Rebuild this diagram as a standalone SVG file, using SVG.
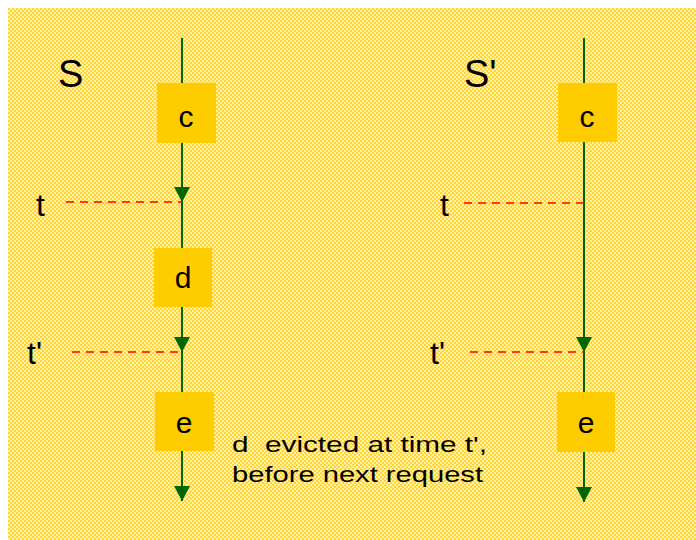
<svg xmlns="http://www.w3.org/2000/svg" width="696" height="540" viewBox="0 0 696 540">
<style>
.box{fill:#FFCC00}
.lbl{font-family:"Comic Sans MS","Liberation Sans",sans-serif;fill:#000}
.big{font-size:38px}
.mid{font-size:32px}
.node{font-size:30px;text-anchor:middle}
.note{font-size:22px}
.flow{stroke:#006600;stroke-width:2;fill:none}
.arr{stroke:#006600;stroke-width:2;fill:none;marker-end:url(#ah)}
.dash{stroke:#FF0000;stroke-width:1.5;stroke-dasharray:8,6;fill:none}
</style>
<defs>
<pattern id="dither" width="4" height="4" patternUnits="userSpaceOnUse">
<rect width="4" height="4" fill="#FFF0A8"/>
<rect width="2" height="2" fill="#FFD633"/>
<rect x="2" y="2" width="2" height="2" fill="#FFD633"/>
</pattern>
<marker id="ah" markerUnits="userSpaceOnUse" markerWidth="16" markerHeight="16" viewBox="0 0 16 16" refX="15" refY="8" orient="auto">
<path d="M0,0 L15,8 L0,16 Z" fill="#006600"/>
</marker>
</defs>
<rect x="8" y="8" width="688" height="532" fill="url(#dither)"/>
<g id="labels">
<text class="lbl big" x="58" y="87">S</text>
<text class="lbl big" x="464" y="87">S'</text>
<text class="lbl mid" x="36" y="216">t</text>
<text class="lbl mid" x="27" y="364">t'</text>
<text class="lbl mid" x="440" y="216">t</text>
<text class="lbl mid" x="430" y="364">t'</text>
<text class="lbl note" x="232" y="452" textLength="255" lengthAdjust="spacingAndGlyphs" xml:space="preserve">d  evicted at time t',</text>
<text class="lbl note" x="232" y="482" textLength="251" lengthAdjust="spacingAndGlyphs">before next request</text>
</g>
<g id="connectors">
<line class="flow" x1="182" y1="38" x2="182" y2="83"/>
<line class="arr" x1="182" y1="143" x2="182" y2="202"/>
<line class="flow" x1="182" y1="202" x2="182" y2="248"/>
<line class="arr" x1="182" y1="307" x2="182" y2="352"/>
<line class="flow" x1="182" y1="352" x2="182" y2="392"/>
<line class="arr" x1="182" y1="451" x2="182" y2="501"/>
<line class="flow" x1="584" y1="38" x2="584" y2="83"/>
<line class="arr" x1="584" y1="142" x2="584" y2="352"/>
<line class="flow" x1="584" y1="352" x2="584" y2="392"/>
<line class="arr" x1="584" y1="452" x2="584" y2="502"/>
<line class="dash" x1="66" y1="202" x2="182" y2="202"/>
<line class="dash" x1="72" y1="352" x2="182" y2="352"/>
<line class="dash" x1="464" y1="203" x2="584" y2="203"/>
<line class="dash" x1="470" y1="352" x2="584" y2="352"/>
</g>
<g id="node-c-left">
<rect class="box" x="157" y="83" width="59" height="60"/>
<text class="lbl node" x="186" y="127">c</text>
</g>
<g id="node-d-left">
<rect class="box" x="154" y="248" width="58" height="59"/>
<text class="lbl node" x="183" y="288">d</text>
</g>
<g id="node-e-left">
<rect class="box" x="155" y="392" width="59" height="59"/>
<text class="lbl node" x="184" y="433">e</text>
</g>
<g id="node-c-right">
<rect class="box" x="558" y="83" width="59" height="59"/>
<text class="lbl node" x="587" y="127">c</text>
</g>
<g id="node-e-right">
<rect class="box" x="557" y="392" width="58" height="60"/>
<text class="lbl node" x="586" y="433">e</text>
</g>
</svg>
